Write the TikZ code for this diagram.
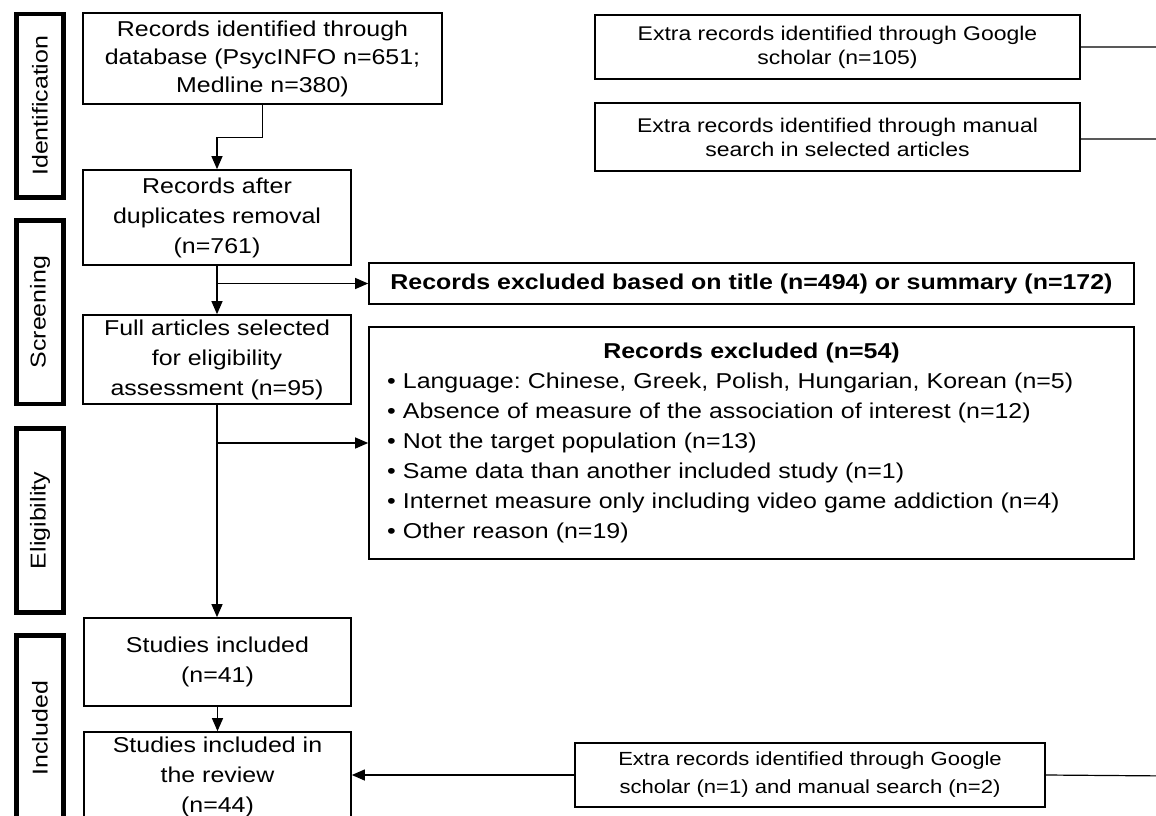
\documentclass[tikz,border=0pt]{standalone}
\usepackage{fontspec}
\setmainfont{Liberation Sans}[FakeStretch=1.16]
\frenchspacing
\usetikzlibrary{arrows.meta,positioning}

\begin{document}
\begin{tikzpicture}[x=1pt,y=-1pt,
		>={Triangle[length=13pt,width=11pt]},
		box/.style={draw,line width=1.7pt,inner sep=0pt,align=center,font=\fontsize{21.5}{30}\selectfont},
		stage/.style={draw,line width=4.5pt,rotate=90,minimum height=47pt,inner sep=0pt,font=\fontsize{21.5}{24}\selectfont},
		flow/.style={line width=1.2pt,->},
		feed/.style={line width=1.2pt,gray!70!black}]
		\clip (0,0) rectangle (1156,816);
%		\draw[step=50,gray!20] (0,0) grid (1156,816);
		\node[stage,minimum width=183.5pt] (ident) at (40,105.75) {Identification};
		\node[stage,minimum width=183.5pt] (screen) at (40,312.25) {Screening};
		\node[stage,minimum width=184pt] (elig) at (40,520.5) {Eligibility};
		\node[stage,minimum width=185.5pt] (incl) at (40,728.25) {Included};

		\node[box,minimum width=359pt,minimum height=91pt,font=\fontsize{21.5}{28}\selectfont] (dbase) at (262.5,58.5)
			{Records identified through\\database (PsycINFO n=651;\\Medline n=380)};
		\node[box,minimum width=268pt,minimum height=95pt] (dup) at (217,217.5)
			{Records after\\duplicates removal\\(n=761)};
		\node[box,minimum width=268pt,minimum height=89pt] (full) at (217,359.5)
			{Full articles selected\\for eligibility\\assessment (n=95)};
		\node[box,minimum width=267pt,minimum height=88pt] (studies) at (217.5,662)
			{Studies included\\(n=41)};
		\node[box,minimum width=267pt,minimum height=90pt] (review) at (217.5,777)
			{Studies included in\\the review\\(n=44)};

		\node[box,minimum width=485pt,minimum height=64pt,font=\fontsize{19.8}{24}\selectfont] (google) at (837.5,47)
			{Extra records identified through Google\\scholar (n=105)};
		\node[box,minimum width=485pt,minimum height=68pt,font=\fontsize{19.8}{24}\selectfont] (manual) at (837.5,137)
			{Extra records identified through manual\\search in selected articles};
		\node[box,minimum width=765pt,minimum height=41pt,font=\fontsize{21.5}{30}\bfseries] (excltitle) at (751.5,283.5)
			{Records excluded based on title (n=494) or summary (n=172)};
		\node[box,minimum width=765pt,minimum height=232pt,text width=729pt,inner xsep=18pt,align=left] (exclfull) at (751.5,443)
			{{\centering\bfseries Records excluded (n=54)\par}
			\textbullet{} Language: Chinese, Greek, Polish, Hungarian, Korean (n=5)\\
			\textbullet{} Absence of measure of the association of interest (n=12)\\
			\textbullet{} Not the target population (n=13)\\
			\textbullet{} Same data than another included study (n=1)\\
			\textbullet{} Internet measure only including video game addiction (n=4)\\
			\textbullet{} Other reason (n=19)};
		\node[box,minimum width=470pt,minimum height=64pt,font=\fontsize{19}{28}\selectfont] (extra) at (810,775)
			{Extra records identified through Google\\scholar (n=1) and manual search (n=2)};

		\coordinate (edgeA) at (1170,47);
		\coordinate (edgeB) at (1170,139);
		\coordinate (edgeC) at (1170,776);

		\draw[flow] (dbase.south) -- ++(0,33) -| (dup.north);
		\draw[flow] (dup.south) -- (full.north);
		\draw[flow] (dup.south |- excltitle.west) -- (excltitle.west);
		\draw[flow] (full.south) -- (full.south |- studies.north);
		\draw[flow] (full.south |- exclfull.west) -- (exclfull.west);
		\draw[flow] (studies.south) -- (review.north);
		\draw[flow] (extra.west) -- (extra.west -| review.east);
		\draw[feed] (google.east) -- (edgeA);
		\draw[feed] (manual.east |- edgeB) -- (edgeB);
		\draw[line width=1.2pt] (extra.east) -- (edgeC);
	\end{tikzpicture}
\end{document}
